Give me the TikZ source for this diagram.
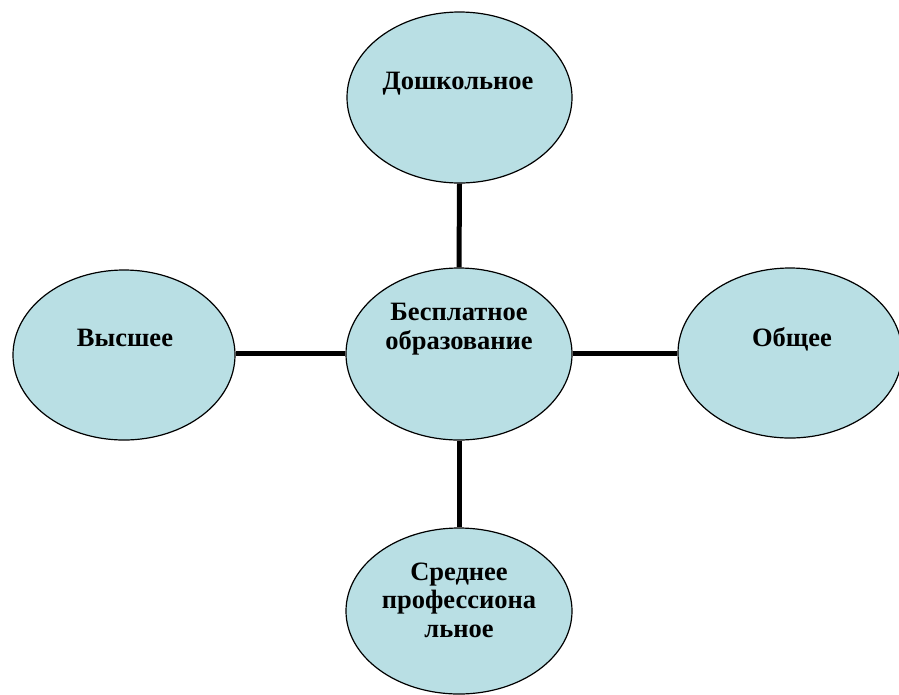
\documentclass[tikz,border=0pt]{standalone}
\usepackage{fontspec}
\setmainfont{Liberation Serif}
\usetikzlibrary{shapes.geometric}
\definecolor{fillc}{RGB}{185,223,228}
\begin{document}
\begin{tikzpicture}[x=1pt,y=-1pt,
  bub/.style={ellipse, draw=black, line width=1.2pt, fill=fillc, inner sep=0pt},
  lbl/.style={font=\fontsize{26.5}{28.5}\selectfont\bfseries, align=center, inner sep=0pt},
  link/.style={line width=5pt}]
\useasboundingbox (0,0) rectangle (899,694);
\node[bub, minimum width=225pt, minimum height=171pt] (pre) at (459.5,97.5) {};
\node[bub, minimum width=226pt, minimum height=172pt] (cen) at (459,354) {};
\node[bub, minimum width=222pt, minimum height=170pt] (hig) at (124,355) {};
\node[bub, minimum width=224pt, minimum height=170pt] (gen) at (790,353) {};
\node[bub, minimum width=226pt, minimum height=166pt] (voc) at (459,611) {};
\draw[link] (pre.south) -- (cen.north);
\draw[link] (cen.south) -- (voc.north);
\draw[link] (hig.east |- 0,353) -- (cen.west |- 0,353);
\draw[link] (cen.east |- 0,353) -- (gen.west |- 0,353);
\node[lbl, anchor=base] (tpre) at (458,89) {Дошкольное};
\node[lbl] (tcen) at (459,329) {Бесплатное\\образование};
\node[lbl, anchor=base] (thig) at (125,346) {Высшее};
\node[lbl, anchor=base] (tgen) at (792,346) {Общее};
\node[lbl] (tvoc) at (459,600) {Среднее\\профессиона\\льное};
\end{tikzpicture}
\end{document}
